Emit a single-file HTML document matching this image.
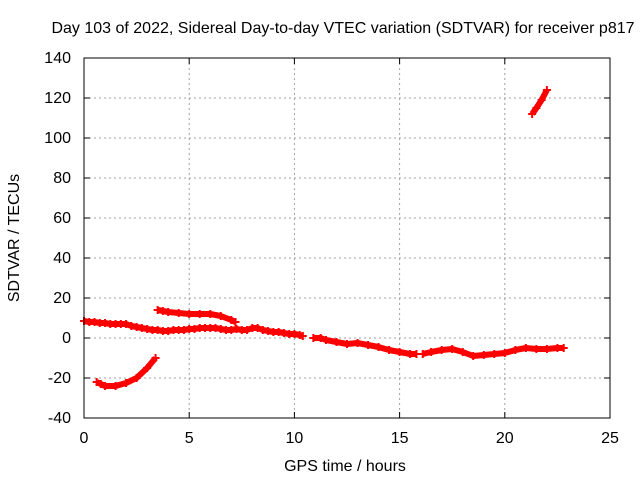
<!DOCTYPE html>
<html><head><meta charset="utf-8"><style>
body{margin:0;background:#fff;}
svg text{font-family:"Liberation Sans",sans-serif;font-size:16px;fill:#000;}
</style></head><body>
<svg id="c" width="640" height="480" xmlns="http://www.w3.org/2000/svg">
<rect width="640" height="480" fill="#fff"/>
<text x="343" y="33" text-anchor="middle">Day 103 of 2022, Sidereal Day-to-day VTEC variation (SDTVAR) for receiver p817</text>
<text x="345" y="471" text-anchor="middle">GPS time / hours</text>
<text transform="translate(19,238) rotate(-90)" text-anchor="middle">SDTVAR / TECUs</text>
<g id="grid"></g><g id="series"></g>
<rect x="84" y="58" width="526" height="360" fill="none" stroke="#000" stroke-width="1"/>
</svg>
<script>
const xTicks=[0,5,10,15,20,25];
const yTicks=[-40,-20,0,20,40,60,80,100,120,140];
const segATime=[0,0.25,0.5,0.75,1,1.25,1.5,1.75,2,2.25,2.5,2.75,3,3.25,3.5,3.75,4,4.25,4.5,4.75,5,5.25,5.5,5.75,6,6.25,6.5,6.75,7,7.25,7.5,7.75,8,8.25,8.5,8.75,9,9.25,9.5,9.75,10,10.25,10.4];
const segAVal=[8.5,8,8,7.5,7.5,7,7,7,7,6,5.5,5,4.5,4,4,3.5,3.5,4,4,4,4.5,4.5,5,5,5,5,4.5,4,4,4.5,4,4,5,5,4,3.5,3,3,2.5,2,2,1.5,1];
const segBTime=[3.5,3.75,4,4.5,5,5.5,6,6.5,7,7.2];
const segBVal=[14,13.5,13,12.5,12,12,12,11,9,8];
const segCTime=[10.9,11.25,11.5,12,12.5,13,13.5,14,14.5,15,15.5,15.8];
const segCVal=[0,0,-1,-2,-3,-2.5,-3.5,-4.5,-6,-7,-8,-8];
const segDTime=[16.1,16.5,17,17.5,18,18.5,19,19.5,20,20.5,21,21.5,22,22.5,22.8];
const segDVal=[-8,-7,-6,-5.5,-7,-9,-8.5,-8,-7.5,-6,-5,-5.5,-5.5,-5,-5];
const segETime=[0.6,0.8,1,1.5,2,2.5,3,3.4];
const segEVal=[-22,-23,-24,-24,-22.5,-20,-15,-10];
const segFTime=[21.3,21.5,21.75,22];
const segFVal=[112,115,119,124];
const X=t=>84+t*526/25, Y=v=>418-(v+40)*360/180;
const NS="http://www.w3.org/2000/svg";
const svg=document.getElementById('c'),grid=document.getElementById('grid'),ser=document.getElementById('series');
function mk(tag,at,p){const e=document.createElementNS(NS,tag);for(const k in at)e.setAttribute(k,at[k]);p.appendChild(e);return e;}
xTicks.forEach(t=>{
 const x=X(t);
 if(t>0&&t<25){const g=mk('line',{x1:x,x2:x,y1:58,y2:418,stroke:'#a0a0a0','stroke-dasharray':'2,3'},grid);
 
 }
 mk('line',{x1:x,x2:x,y1:418,y2:412,stroke:'#000'},grid);mk('line',{x1:x,x2:x,y1:58,y2:64,stroke:'#000'},grid);
 const l=mk('text',{x:x,y:443,'text-anchor':'middle'},grid);l.textContent=t;
 
 
});
yTicks.forEach(v=>{
 const y=Y(v);
 if(v>-40&&v<140){const g=mk('line',{x1:84,x2:610,y1:y,y2:y,stroke:'#a0a0a0','stroke-dasharray':'2,3'},grid);
 
 }
 mk('line',{x1:84,x2:90,y1:y,y2:y,stroke:'#000'},grid);mk('line',{x1:610,x2:604,y1:y,y2:y,stroke:'#000'},grid);
 const l=mk('text',{x:71,y:y+5,'text-anchor':'end'},grid);l.textContent=v;
 
 
});
[[segATime,segAVal],[segBTime,segBVal],[segCTime,segCVal],[segDTime,segDVal],[segETime,segEVal],[segFTime,segFVal]].forEach(([ts,vs],i)=>{
 const pts=ts.map((t,j)=>X(t)+','+Y(vs[j])).join(' ');
 const pl=mk('polyline',{points:pts,fill:'none',stroke:'#ff0000','stroke-width':6,'stroke-linejoin':'round'},ser);
 
 
 ts.forEach((t,j)=>{const x=X(t),y=Y(vs[j]);
  const p=mk('path',{d:`M${x-4},${y}h8M${x},${y-4}v8`,stroke:'#ff0000','stroke-width':2},ser);
  
  });
});
</script>
</body></html>
